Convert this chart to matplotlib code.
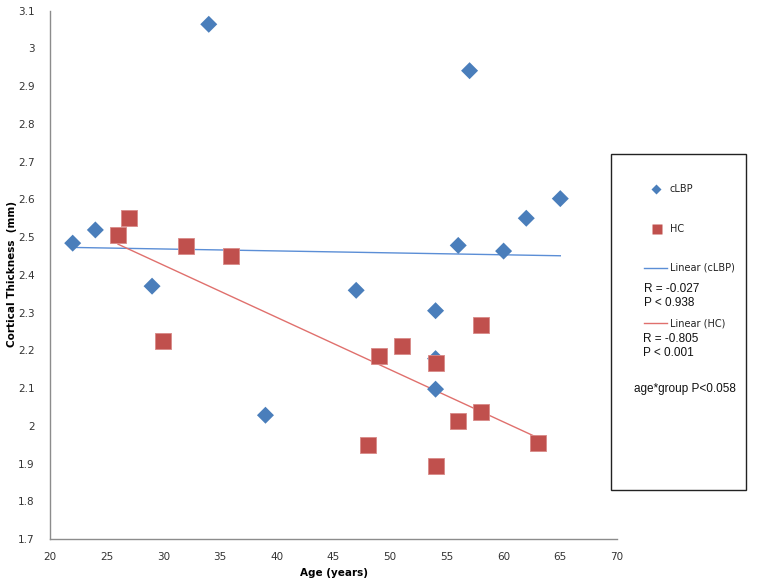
import numpy as np
import matplotlib
matplotlib.use("Agg")
import matplotlib.pyplot as plt
from matplotlib.patches import Rectangle
from matplotlib.lines import Line2D

# Data
clbp_age = [22, 24, 29, 34, 39, 47, 54, 54, 54, 56, 57, 60, 62, 65]
clbp_thk = [2.484, 2.519, 2.370, 3.064, 2.028, 2.359, 2.305, 2.178, 2.097, 2.478, 2.941, 2.463, 2.550, 2.602]
hc_age = [26, 27, 30, 32, 36, 48, 49, 51, 54, 54, 56, 58, 58, 63]
hc_thk = [2.505, 2.550, 2.225, 2.476, 2.449, 1.949, 2.186, 2.212, 2.166, 1.894, 2.013, 2.268, 2.037, 1.955]
x_ticks = [20, 25, 30, 35, 40, 45, 50, 55, 60, 65, 70]
y_ticks = [1.7, 1.8, 1.9, 2.0, 2.1, 2.2, 2.3, 2.4, 2.5, 2.6, 2.7, 2.8, 2.9, 3.0, 3.1]
y_tick_labels = ["1.7", "1.8", "1.9", "2", "2.1", "2.2", "2.3", "2.4", "2.5", "2.6", "2.7", "2.8", "2.9", "3", "3.1"]
stats_clbp = ["R = -0.027", "P < 0.938"]
stats_hc = ["R = -0.805", "P < 0.001"]
interaction = "age*group P<0.058"

BLUE = "#4A7EBB"
RED = "#C0504D"
BLUE_LINE = "#5B8ED6"
RED_LINE = "#E0706D"

W, H = 761, 585
fig = plt.figure(figsize=(W / 100, H / 100), dpi=100)

def fx(px):
    return px / W

def fy(py):
    return 1 - py / H

ax = fig.add_axes([fx(50), fy(539), fx(617) - fx(50), fy(10.7) - fy(539)])
ax.set_xlim(20, 70)
ax.set_ylim(1.7, 3.1)

# trend lines
for ages, vals, col in [(clbp_age, clbp_thk, BLUE_LINE), (hc_age, hc_thk, RED_LINE)]:
    a = np.array(ages, float)
    v = np.array(vals, float)
    m, b = np.polyfit(a, v, 1)
    xs = np.array([a.min(), a.max()])
    ax.plot(xs, m * xs + b, color=col, lw=1.0, zorder=2)

ax.scatter(clbp_age, clbp_thk, marker="D", s=75, color=BLUE, edgecolors="none", zorder=3)
ax.scatter(hc_age, hc_thk, marker="s", s=130, color=RED, edgecolors="#D98A88", linewidths=0.6, zorder=4)

ax.set_xticks(x_ticks)
ax.set_xticklabels([str(t) for t in x_ticks])
ax.set_yticks(y_ticks)
ax.set_yticklabels(y_tick_labels)
ax.tick_params(axis="both", length=0, labelsize=7.5, colors="#333333")
ax.tick_params(axis="x", pad=9)
ax.tick_params(axis="y", pad=11)

for s in ["top", "right"]:
    ax.spines[s].set_visible(False)
for s in ["left", "bottom"]:
    ax.spines[s].set_color("#8C8C8C")
    ax.spines[s].set_linewidth(1.0)

ax.set_xlabel("Age (years)", fontsize=7.5, fontweight="bold", labelpad=5)
fig.text(fx(12), fy(274), "Cortical Thickness  (mm)", fontsize=7.5, fontweight="bold",
         rotation=90, ha="center", va="center")

# legend box in figure coordinates
rect = Rectangle((fx(610.5), fy(490)), fx(745.5) - fx(610.5), fy(154) - fy(490),
                 transform=fig.transFigure, fill=False, edgecolor="#222222", lw=1.0)
fig.add_artist(rect)

fig.add_artist(Line2D([fx(656)], [fy(189)], transform=fig.transFigure, marker="D",
                      markersize=5.5, color=BLUE, markeredgecolor="none", linestyle="none"))
fig.text(fx(670), fy(189), "cLBP", fontsize=7, va="center", ha="left", color="#222222")
fig.add_artist(Line2D([fx(657)], [fy(229)], transform=fig.transFigure, marker="s",
                      markersize=6.5, color=RED, markeredgecolor="none", linestyle="none"))
fig.text(fx(670), fy(229), "HC", fontsize=7, va="center", ha="left", color="#222222")

fig.add_artist(Line2D([fx(644), fx(667)], [fy(268), fy(268)], transform=fig.transFigure,
                      color=BLUE_LINE, lw=1.0))
fig.text(fx(670), fy(268), "Linear (cLBP)", fontsize=7, va="center", ha="left", color="#222222")
fig.text(fx(644), fy(289), stats_clbp[0], fontsize=8.5, va="center", ha="left",
         family="Liberation Sans", color="#111111")
fig.text(fx(644), fy(303), stats_clbp[1], fontsize=8.5, va="center", ha="left",
         family="Liberation Sans", color="#111111")

fig.add_artist(Line2D([fx(644), fx(667)], [fy(323), fy(323)], transform=fig.transFigure,
                      color=RED_LINE, lw=1.0))
fig.text(fx(670), fy(323), "Linear (HC)", fontsize=7, va="center", ha="left", color="#222222")
fig.text(fx(643), fy(339), stats_hc[0], fontsize=8.5, va="center", ha="left",
         family="Liberation Sans", color="#111111")
fig.text(fx(643), fy(353), stats_hc[1], fontsize=8.5, va="center", ha="left",
         family="Liberation Sans", color="#111111")

fig.text(fx(634), fy(389), interaction, fontsize=8.5, va="center", ha="left",
         family="Liberation Sans", color="#111111")

fig.savefig("out.png", dpi=100)
